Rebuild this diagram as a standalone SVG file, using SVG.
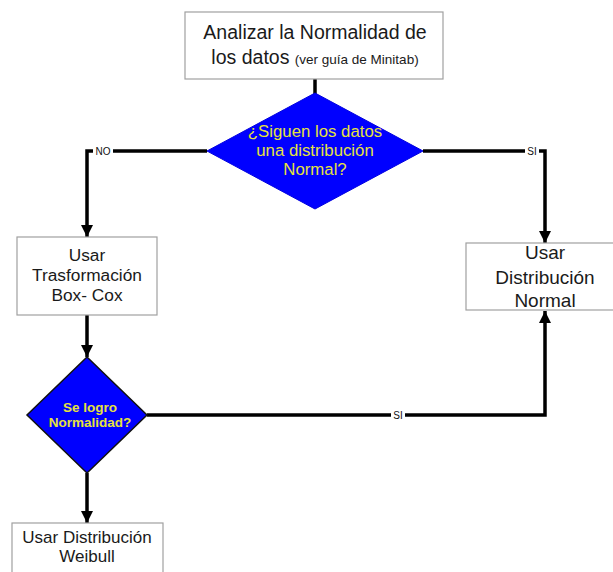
<svg xmlns="http://www.w3.org/2000/svg" width="613" height="572" viewBox="0 0 613 572">
  <defs>
    <marker id="arrow" viewBox="0 0 12 12" refX="12" refY="6" markerWidth="12" markerHeight="12" markerUnits="userSpaceOnUse" orient="auto">
      <path d="M0,0 L12,6 L0,12 Z" fill="#000"/>
    </marker>
    <style>
      .box { fill: #fff; stroke: #a0a0a0; stroke-width: 1.2; }
      .dec { fill: #0000ff; stroke: #0000e0; stroke-width: 1; }
      .dec2 { fill: #0000ff; stroke: #111; stroke-width: 1.5; }
      .txt { font-family: "Liberation Sans", Arial, sans-serif; fill: #1a1a1a; text-anchor: middle; }
      .ytxt { font-family: "Liberation Sans", Arial, sans-serif; fill: #e6e23c; text-anchor: middle; }
      .wire { fill: none; stroke: #000; stroke-width: 3.5; stroke-linejoin: miter; }
      .lbl { font-family: "Liberation Sans", Arial, sans-serif; font-size: 10px; fill: #111; text-anchor: middle; }
    </style>
  </defs>
  <rect width="613" height="572" fill="#fff"/>

  <!-- connectors -->
  <g id="connectors">
    <path class="wire" d="M315,79 L315,94"/>
    <path class="wire" d="M207,151 L87,151 L87,237" marker-end="url(#arrow)"/>
    <path class="wire" d="M423,151 L545,151 L545,243" marker-end="url(#arrow)"/>
    <path class="wire" d="M87,315 L87,357" marker-end="url(#arrow)"/>
    <path class="wire" d="M87,473 L87,523" marker-end="url(#arrow)"/>
    <path class="wire" d="M147,415 L545,415 L545,311" marker-end="url(#arrow)"/>
    <rect x="93" y="145" width="20" height="12" fill="#fff"/>
    <text class="lbl" x="103" y="155">NO</text>
    <rect x="525" y="145" width="14" height="12" fill="#fff"/>
    <text class="lbl" x="532" y="155">SI</text>
    <rect x="391" y="409" width="14" height="12" fill="#fff"/>
    <text class="lbl" x="398" y="419">SI</text>
  </g>

  <g id="analizar">
    <rect class="box" x="185" y="12" width="258" height="67"/>
    <text class="txt" x="315" y="39" font-size="19.5">Analizar la Normalidad de</text>
    <text class="txt" x="315" y="64" font-size="19.5">los datos <tspan font-size="13.5">(ver guía de Minitab)</tspan></text>
  </g>

  <g id="siguen-normal">
    <polygon class="dec" points="315,93 423,151 315,209 207,151"/>
    <text class="ytxt" x="315" y="137" font-size="16.8">¿Siguen los datos</text>
    <text class="ytxt" x="315" y="156" font-size="16.8">una distribución</text>
    <text class="ytxt" x="315" y="175" font-size="16.8">Normal?</text>
  </g>

  <g id="box-cox">
    <rect class="box" x="17" y="237" width="140" height="78"/>
    <text class="txt" x="87" y="261" font-size="17.3">Usar</text>
    <text class="txt" x="87" y="281" font-size="17.3">Trasformación</text>
    <text class="txt" x="87" y="301" font-size="17.3">Box- Cox</text>
  </g>

  <g id="distribucion-normal">
    <rect class="box" x="466" y="243" width="160" height="67"/>
    <text class="txt" x="545" y="259" font-size="19">Usar</text>
    <text class="txt" x="545" y="284" font-size="19">Distribución</text>
    <text class="txt" x="545" y="307" font-size="19">Normal</text>
  </g>

  <g id="se-logro">
    <polygon class="dec2" points="87,357 147,415 87,473 27,415"/>
    <text class="ytxt" x="90" y="412" font-size="13.5" font-weight="bold">Se logro</text>
    <text class="ytxt" x="90" y="427" font-size="13.5" font-weight="bold">Normalidad?</text>
  </g>

  <g id="weibull">
    <rect class="box" x="12" y="523" width="151" height="60"/>
    <text class="txt" x="87" y="543" font-size="17">Usar Distribución</text>
    <text class="txt" x="87" y="562" font-size="17">Weibull</text>
  </g>
</svg>
